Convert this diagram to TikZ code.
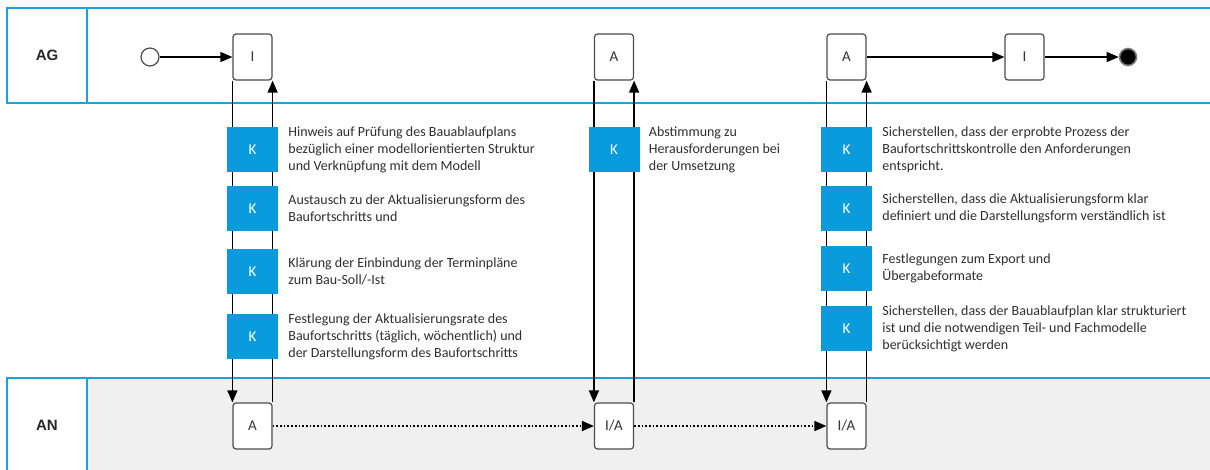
\documentclass[tikz,border=0pt]{standalone}
\usepackage{fontspec}
\setmainfont{Carlito}
\newfontfamily\lanefont{Liberation Sans}
\usetikzlibrary{arrows.meta}
\definecolor{laneblue}{HTML}{1BA1E2}
\definecolor{kblue}{HTML}{0A9BDD}
\definecolor{anfill}{HTML}{F0F0F0}
\definecolor{txt}{HTML}{2E2E2E}
\begin{document}
\begin{tikzpicture}[x=1pt,y=-1pt,
  lane/.style={draw=laneblue,line width=2.2pt},
  lanelabel/.style={font=\lanefont\bfseries\fontsize{15}{18}\selectfont,text=black!85},
  task/.style={draw=black!70,line width=1.2pt,rounded corners=3pt,fill=white,
    minimum width=39pt,minimum height=46pt,inner sep=0pt,text=black!80,font=\fontsize{15}{17}\selectfont},
  kbox/.style={fill=kblue,minimum width=51pt,minimum height=45pt,inner sep=0pt,
    text=white,font=\fontsize{15}{17}\selectfont},
  note/.style={anchor=west,align=left,inner sep=0pt,text=txt,font=\fontsize{14}{17}\selectfont},
  flow/.style={line width=1.3pt,-{Triangle[length=12pt,width=10pt]}},
  msg/.style={line width=1.7pt,dotted,-{Triangle[length=12pt,width=10pt]}}
]
\useasboundingbox (0,0) rectangle (1210,470);

% swimlanes
\fill[anfill] (87,378) rectangle (1215,475);
\draw[lane] (1215,8) -- (7,8) -- (7,103) -- (1215,103);
\draw[lane] (87,8) -- (87,103);
\draw[lane] (1215,378) -- (7,378) -- (7,475);
\draw[lane] (87,378) -- (87,475);
\node[lanelabel] (agl) at (47,55) {AG};
\node[lanelabel] (anl) at (47,425) {AN};

% AG row
\node[circle,draw=black!70,line width=1.2pt,fill=white,minimum size=18pt,inner sep=0pt] (start) at (150,57) {};
\node[task] (i1) at (252.5,57) {I};
\node[task] (a2) at (614,57) {A};
\node[task] (a3) at (846.5,57) {A};
\node[task] (i4) at (1024.5,57) {I};
\node[circle,draw=black!50,line width=1.6pt,fill=black,minimum size=17pt,inner sep=0pt] (stop) at (1128,57) {};

% AN row
\node[task] (b1) at (252.5,426) {A};
\node[task] (b2) at (614,426) {I/A};
\node[task] (b3) at (846.5,426) {I/A};

% sequence flow
\draw[flow] (start) -- (i1);
\draw[flow] (a3) -- (i4);
\draw[flow] (i4) -- (stop);
\draw[msg] (b1) -- (b2);
\draw[msg] (b2) -- (b3);

% vertical hand-over lines
\draw[flow] (i1.south west) -- (b1.north west);
\draw[flow] (b1.north east) -- (i1.south east);
\draw[flow] (a2.south west) -- (b2.north west);
\draw[flow] (b2.north east) -- (a2.south east);
\draw[flow] (a3.south west) -- (b3.north west);
\draw[flow] (b3.north east) -- (a3.south east);

% coordination steps, first column
\node[kbox] (k11) at (252.5,149.5) {K};
\node[kbox] (k12) at (252.5,208.5) {K};
\node[kbox] (k13) at (252.5,271.5) {K};
\node[kbox] (k14) at (252.5,336.5) {K};
\node[note] (t11) at ([xshift=10pt]k11.east) {Hinweis auf Prüfung des Bauablaufplans\\bezüglich einer modellorientierten Struktur\\und Verknüpfung mit dem Modell};
\node[note] (t12) at ([xshift=10pt]k12.east) {Austausch zu der Aktualisierungsform des\\Baufortschritts und};
\node[note] (t13) at ([xshift=10pt]k13.east) {Klärung der Einbindung der Terminpläne\\zum Bau-Soll/-Ist};
\node[note] (t14) at ([xshift=10pt]k14.east) {Festlegung der Aktualisierungsrate des\\Baufortschritts (täglich, wöchentlich) und\\der Darstellungsform des Baufortschritts};

% second column
\node[kbox] (k21) at (614,149.5) {K};
\node[note] (t21) at ([xshift=9pt]k21.east) {Abstimmung zu\\Herausforderungen bei\\der Umsetzung};

% third column
\node[kbox] (k31) at (846.5,149.5) {K};
\node[kbox] (k32) at (846.5,208.5) {K};
\node[kbox] (k33) at (846.5,268.5) {K};
\node[kbox] (k34) at (846.5,328.5) {K};
\node[note] (t31) at ([xshift=10pt]k31.east) {Sicherstellen, dass der erprobte Prozess der\\Baufortschrittskontrolle den Anforderungen\\entspricht.};
\node[note] (t32) at ([xshift=10pt]k32.east) {Sicherstellen, dass die Aktualisierungsform klar\\definiert und die Darstellungsform verständlich ist};
\node[note] (t33) at ([xshift=10pt]k33.east) {Festlegungen zum Export und\\Übergabeformate};
\node[note] (t34) at ([xshift=10pt]k34.east) {Sicherstellen, dass der Bauablaufplan klar strukturiert\\ist und die notwendigen Teil- und Fachmodelle\\berücksichtigt werden};
\end{tikzpicture}
\end{document}
